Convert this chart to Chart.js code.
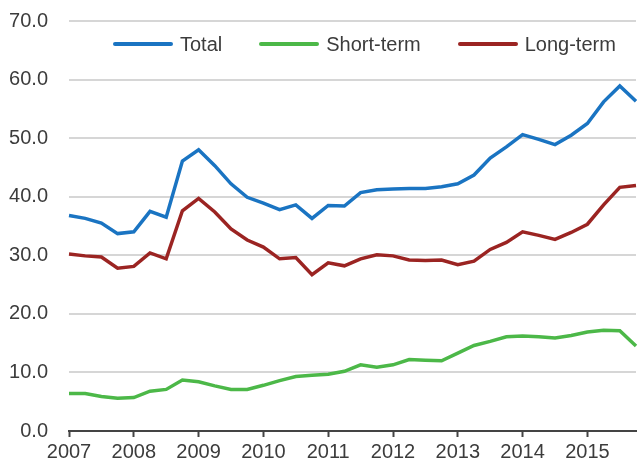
<!DOCTYPE html>
<html>
<head>
<meta charset="utf-8">
<script src="https://cdn.jsdelivr.net/npm/chart.js@4.4.1/dist/chart.umd.min.js"></script>
<style>
  body { margin: 0; background: #fff; }
  #wrap { position: relative; width: 639px; height: 466px; }
  #legend {
    position: absolute; left: 113px; top: 32px; height: 24px;
    display: flex; align-items: center; white-space: nowrap;
    font-family: "Liberation Sans", Arial, sans-serif;
    font-size: 20px; color: #3c3c3c;
  }
  .item { display: flex; align-items: center; margin-right: 37px; }
  .swatch { width: 60px; height: 4px; margin-right: 7px; border-radius: 2px; }
</style>
</head>
<body>
<div id="wrap">
  <canvas id="chart" width="639" height="466"></canvas>
  <div id="legend"></div>
</div>
<script>
// --- DATA ---
const years = [2007, 2008, 2009, 2010, 2011, 2012, 2013, 2014, 2015];
const quarterNames = ['Q1', 'Q2', 'Q3', 'Q4'];
const seriesNames = ['Total', 'Short-term', 'Long-term'];
const yTicks = [0, 10, 20, 30, 40, 50, 60, 70];

const total = [36.8, 36.3, 35.5, 33.7, 34.0, 37.5, 36.5, 46.1, 48.0, 45.3, 42.2, 39.9,
               38.9, 37.8, 38.6, 36.3, 38.5, 38.4, 40.7, 41.2, 41.3, 41.4, 41.4, 41.7,
               42.2, 43.7, 46.6, 48.5, 50.6, 49.8, 48.9, 50.5, 52.5, 56.2, 58.9, 56.3];
const shortTerm = [6.4, 6.4, 5.9, 5.6, 5.7, 6.8, 7.1, 8.7, 8.4, 7.7, 7.1, 7.1,
                   7.8, 8.6, 9.3, 9.5, 9.7, 10.2, 11.3, 10.9, 11.3, 12.2, 12.1, 12.0,
                   13.3, 14.6, 15.3, 16.1, 16.2, 16.1, 15.9, 16.3, 16.9, 17.2, 17.1, 14.5];
const longTerm = [30.2, 29.9, 29.7, 27.8, 28.1, 30.4, 29.4, 37.6, 39.7, 37.4, 34.5, 32.6,
                  31.4, 29.4, 29.6, 26.7, 28.7, 28.2, 29.4, 30.1, 29.9, 29.2, 29.1, 29.2,
                  28.4, 29.0, 31.0, 32.2, 34.0, 33.4, 32.7, 33.9, 35.3, 38.6, 41.6, 41.9];

const colors = ['#1a74c2', '#4cb848', '#9b2422'];

// quarterly categories, e.g. "2007Q1"
const labels = years.flatMap(y => quarterNames.map(q => y + q));

const fontFamily = '"Liberation Sans", Arial, sans-serif';
const textColor = '#3c3c3c';

const datasets = [total, shortTerm, longTerm].map((vals, i) => ({
    label: seriesNames[i],
    data: vals,
    borderColor: colors[i],
    backgroundColor: colors[i],
    borderWidth: 3.5,
    pointRadius: 0,
    tension: 0,
    fill: false
}));

// draw in order so the blue line sits on top
datasets[0].order = 0;
datasets[1].order = 2;
datasets[2].order = 1;

new Chart(document.getElementById('chart').getContext('2d'), {
    type: 'line',
    data: { labels: labels, datasets: datasets },
    options: {
        responsive: false,
        animation: false,
        layout: { padding: 0 },
        plugins: { legend: { display: false }, tooltip: { enabled: false } },
        scales: {
            x: {
                offset: false,
                border: { display: true, color: '#444', width: 2 },
                grid: {
                    drawOnChartArea: false,
                    drawTicks: true,
                    tickLength: 6,
                    tickWidth: 2,
                    tickColor: ctx => (ctx.index % 4 === 0 ? '#444' : 'rgba(0,0,0,0)')
                },
                ticks: {
                    autoSkip: false,
                    maxRotation: 0,
                    padding: 3,
                    color: textColor,
                    font: { family: fontFamily, size: 20 },
                    callback: (v, i) => (i % 4 === 0 ? labels[i].slice(0, 4) : '')
                },
                afterFit: scale => { scale.height = 35; }
            },
            y: {
                min: 0,
                max: 70,
                afterBuildTicks: scale => { scale.ticks = yTicks.map(v => ({ value: v })); },
                border: { display: false },
                grid: {
                    drawTicks: false,
                    lineWidth: 2,
                    color: ctx => (ctx.tick && ctx.tick.value === 0 ? 'rgba(0,0,0,0)' : '#d6d6d6')
                },
                ticks: {
                    padding: 21,
                    color: textColor,
                    font: { family: fontFamily, size: 20 },
                    callback: v => v.toFixed(1)
                },
                // tick padding is also added above the top label; keep the 70 line near the top
                afterFit: scale => { scale.width = 69; scale.paddingTop = 21; }
            }
        }
    }
});

// --- HTML LEGEND ---
const legend = document.getElementById('legend');
seriesNames.forEach((name, i) => {
    const item = document.createElement('div');
    item.className = 'item';
    item.innerHTML = `<span class="swatch" style="background:${colors[i]}"></span><span>${name}</span>`;
    legend.appendChild(item);
});
</script>
</body>
</html>
